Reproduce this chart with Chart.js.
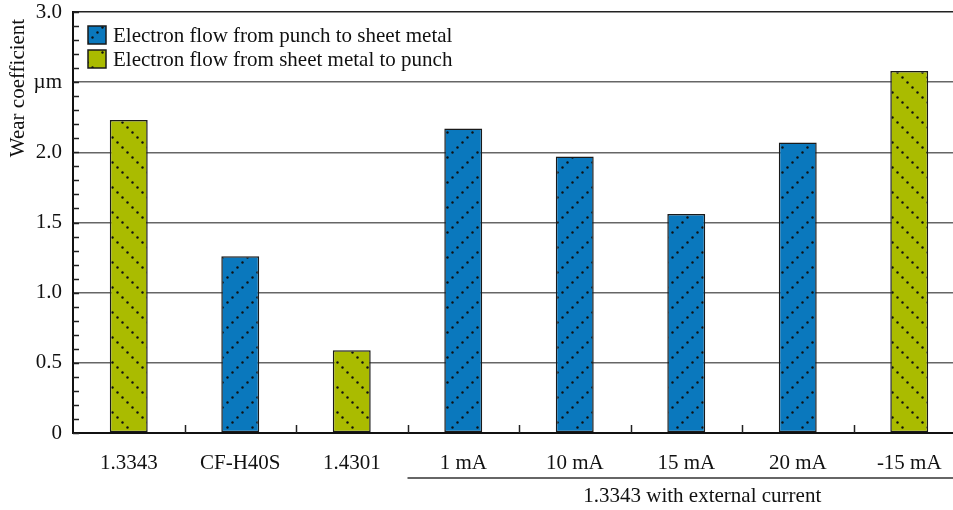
<!DOCTYPE html>
<html>
<head>
<meta charset="utf-8">
<script src="https://cdn.jsdelivr.net/npm/chart.js@4.4.1/dist/chart.umd.min.js"></script>
<style>
  html, body { margin: 0; padding: 0; background: #fff; overflow: hidden; }
  #wrap { width: 966px; height: 510px; }
</style>
</head>
<body>
<div id="wrap"><canvas id="wearChart" width="966" height="510"></canvas></div>
<script>
/* data */
var categories = ['1.3343', 'CF-H40S', '1.4301', '1 mA', '10 mA', '15 mA', '20 mA', '-15 mA'];
var punchToSheet = [null, 1.26, null, 2.17, 1.97, 1.56, 2.07, null];
var sheetToPunch = [2.23, null, 0.59, null, null, null, null, 2.58];
var seriesNames = ['Electron flow from punch to sheet metal', 'Electron flow from sheet metal to punch'];
var groupLabel = '1.3343 with external current';
var axisTitle = 'Wear coefficient';

var FONT = "'Liberation Serif', 'Times New Roman', serif";
var BLUE = '#0a78bd';
var GREEN = '#aabb00';

/* dotted diagonal hatch, 25px tile */
function makePattern(color, rising) {
    var c = document.createElement('canvas');
    c.width = 25; c.height = 25;
    var g = c.getContext('2d');
    g.fillStyle = color;
    g.fillRect(0, 0, 25, 25);
    g.fillStyle = '#111';
    for (var k = 0; k < 5; k++) {
        var x = k * 5 + 2.5;
        var y = rising ? (25 - k * 5 + 2.5) % 25 : k * 5 + 2.5;
        g.beginPath();
        g.arc(x, y, 1.2, 0, Math.PI * 2);
        g.fill();
    }
    return document.getElementById('wearChart').getContext('2d').createPattern(c, 'repeat');
}
var bluePattern = makePattern(BLUE, true);
var greenPattern = makePattern(GREEN, false);

var extrasPlugin = {
    id: 'extras',
    afterDraw: function (chart) {
        var ctx = chart.ctx;
        var area = chart.chartArea;
        var xs = chart.scales.x, ys = chart.scales.y;
        ctx.save();

        // inward minor ticks on y axis
        ctx.strokeStyle = '#222';
        ctx.lineWidth = 1.5;
        ys.ticks.forEach(function (t) {
            var y = Math.round(ys.getPixelForValue(t.value)) + 0.5;
            ctx.beginPath();
            ctx.moveTo(area.left, y);
            ctx.lineTo(area.left + 6, y);
            ctx.stroke();
        });

        // inward ticks between categories
        var half = (xs.getPixelForValue(1) - xs.getPixelForValue(0)) / 2;
        for (var i = 1; i < categories.length; i++) {
            var bx = Math.round(xs.getPixelForValue(i) - half) + 0.5;
            ctx.beginPath();
            ctx.moveTo(bx, area.bottom);
            ctx.lineTo(bx, area.bottom - 8);
            ctx.stroke();
        }

        // group bracket
        var gx = xs.getPixelForValue(3) - half;
        ctx.strokeStyle = '#333';
        ctx.lineWidth = 1.6;
        ctx.beginPath();
        ctx.moveTo(gx, 478);
        ctx.lineTo(chart.width, 478);
        ctx.stroke();
        ctx.fillStyle = '#111';
        ctx.font = '21px ' + FONT;
        ctx.textAlign = 'center';
        ctx.textBaseline = 'middle';
        ctx.fillText(groupLabel, xs.getPixelForValue(5) + 16, 496);

        // y axis title
        ctx.save();
        ctx.translate(18, 88);
        ctx.rotate(-Math.PI / 2);
        ctx.fillText(axisTitle, 0, 0);
        ctx.restore();

        // legend
        var fills = [bluePattern, greenPattern];
        var rows = [35, 59];
        ctx.textAlign = 'left';
        for (var j = 0; j < 2; j++) {
            ctx.fillStyle = fills[j];
            ctx.fillRect(88, rows[j] - 9, 18, 18);
            ctx.strokeStyle = '#1a1a1a';
            ctx.lineWidth = 1.5;
            ctx.strokeRect(88, rows[j] - 9, 18, 18);
            ctx.fillStyle = '#111';
            ctx.fillText(seriesNames[j], 113, rows[j] + 1);
        }
        ctx.restore();
    }
};

new Chart(document.getElementById('wearChart'), {
    type: 'bar',
    data: {
        labels: categories,
        datasets: [
            {
                label: seriesNames[0],
                data: punchToSheet,
                backgroundColor: bluePattern,
                borderColor: '#1a1a1a',
                borderWidth: 1.5,
                borderSkipped: false,
                grouped: false,
                categoryPercentage: 1,
                barPercentage: 0.34
            },
            {
                label: seriesNames[1],
                data: sheetToPunch,
                backgroundColor: greenPattern,
                borderColor: '#1a1a1a',
                borderWidth: 1.5,
                borderSkipped: false,
                grouped: false,
                categoryPercentage: 1,
                barPercentage: 0.34
            }
        ]
    },
    options: {
        responsive: false,
        animation: false,
        layout: { padding: { top: 12, right: 1, left: 0, bottom: 0 } },
        plugins: {
            legend: { display: false },
            tooltip: { enabled: false }
        },
        scales: {
            x: {
                grid: { display: false, drawTicks: false },
                border: { display: true, color: '#111', width: 2 },
                ticks: { color: '#111', font: { family: FONT, size: 21 }, padding: 18, maxRotation: 0 },
                afterFit: function (scale) {
                    scale.height = 77;
                    scale.paddingLeft = 0;
                    scale.paddingRight = 0;
                }
            },
            y: {
                min: 0,
                max: 3,
                grid: {
                    drawTicks: false,
                    lineWidth: 1.5,
                    color: function (c) {
                        var v = Math.round(c.tick.value * 10);
                        if (v === 30) return '#222';
                        if (v !== 0 && v % 5 === 0) return '#666';
                        return 'rgba(0,0,0,0)';
                    }
                },
                border: { display: true, color: '#111', width: 2 },
                ticks: {
                    stepSize: 0.1,
                    autoSkip: false,
                    padding: 11,
                    color: '#111',
                    font: { family: FONT, size: 21 },
                    callback: function (value) {
                        var v = Math.round(value * 10);
                        if (v % 5 !== 0) return '';
                        if (v === 0) return '0';
                        if (v === 25) return 'µm';
                        return (v / 10).toFixed(1);
                    }
                },
                afterFit: function (scale) {
                    scale.width = 73;
                    scale.paddingTop = 0;
                    scale.paddingBottom = 0;
                }
            }
        }
    },
    plugins: [extrasPlugin]
});
</script>
</body>
</html>
